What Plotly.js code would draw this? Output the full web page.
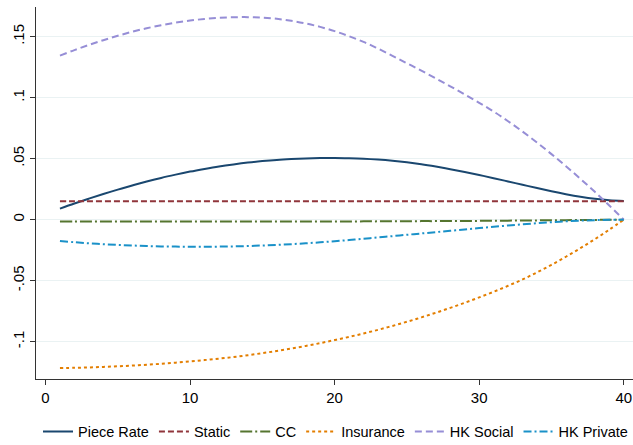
<!DOCTYPE html>
<html>
<head>
<meta charset="utf-8">
<script src="https://cdn.plot.ly/plotly-3.0.1.min.js"></script>
<style>html,body{margin:0;padding:0;background:#fff;}#chart{width:633px;height:445px;}</style>
</head>
<body>
<div id="chart"></div>
<script>
const periods = [1,2,3,4,5,6,7,8,9,10,11,12,13,14,15,16,17,18,19,20,21,22,23,24,25,26,27,28,29,30,31,32,33,34,35,36,37,38,39,40];

const pieceRate = [0.0090,0.0132,0.0172,0.0210,0.0246,0.0280,0.0312,0.0342,0.0369,0.0394,0.0416,0.0436,0.0453,0.0468,0.0480,0.0490,0.0497,0.0502,0.0505,0.0506,0.0504,0.0500,0.0493,0.0483,0.0470,0.0454,0.0435,0.0414,0.0391,0.0366,0.0340,0.0313,0.0286,0.0259,0.0233,0.0209,0.0188,0.0171,0.0159,0.0153];

const staticVals = [0.015,0.015,0.015,0.015,0.015,0.015,0.015,0.015,0.015,0.015,0.015,0.015,0.015,0.015,0.015,0.015,0.015,0.015,0.015,0.015,0.015,0.015,0.015,0.015,0.015,0.015,0.015,0.015,0.015,0.015,0.015,0.015,0.015,0.015,0.015,0.015,0.015,0.015,0.015,0.015];

const ccVals = [-0.0015,-0.0015,-0.0015,-0.0015,-0.0015,-0.0015,-0.0015,-0.0015,-0.0015,-0.0015,-0.0015,-0.0015,-0.0015,-0.0015,-0.0015,-0.0015,-0.0015,-0.0015,-0.0015,-0.0015,-0.0015,-0.0014,-0.0014,-0.0013,-0.0013,-0.0012,-0.0012,-0.0011,-0.0011,-0.0010,-0.0009,-0.0008,-0.0007,-0.0006,-0.0005,-0.0004,-0.0003,-0.0002,-0.0001,0];

const insurance = [-0.1216,-0.1214,-0.1211,-0.1207,-0.1202,-0.1196,-0.1189,-0.1181,-0.1172,-0.1162,-0.1151,-0.1139,-0.1126,-0.1111,-0.1094,-0.1076,-0.1056,-0.1035,-0.1012,-0.0987,-0.0961,-0.0933,-0.0903,-0.0871,-0.0837,-0.0801,-0.0763,-0.0723,-0.0681,-0.0637,-0.0591,-0.0542,-0.0490,-0.0432,-0.0370,-0.0304,-0.0234,-0.0160,-0.0082,0];

const hkSocial = [0.1345,0.1390,0.1432,0.1471,0.1507,0.1540,0.1569,0.1594,0.1615,0.1632,0.1645,0.1654,0.1659,0.1660,0.1656,0.1646,0.1630,0.1608,0.1580,0.1545,0.1503,0.1457,0.1402,0.1343,0.1282,0.1221,0.1158,0.1093,0.1026,0.0958,0.0886,0.0807,0.0722,0.0632,0.0537,0.0438,0.0335,0.0228,0.0116,0];

const hkPrivate = [-0.0175,-0.0185,-0.0194,-0.0201,-0.0207,-0.0212,-0.0216,-0.0219,-0.0221,-0.0222,-0.0222,-0.0221,-0.0219,-0.0216,-0.0212,-0.0207,-0.0201,-0.0194,-0.0186,-0.0177,-0.0167,-0.0157,-0.0146,-0.0135,-0.0124,-0.0113,-0.0102,-0.0091,-0.0080,-0.0069,-0.0058,-0.0048,-0.0038,-0.0029,-0.0021,-0.0014,-0.0008,-0.0004,-0.0001,0];

const seriesNames = ["Piece Rate","Static","CC","Insurance","HK Social","HK Private"];
const yTickVals = [-0.1,-0.05,0,0.05,0.1,0.15];
const yTickText = ["-.1","-.05","0",".05",".1",".15"];
const xTickVals = [0,10,20,30,40];

const seriesData = [pieceRate, staticVals, ccVals, insurance, hkSocial, hkPrivate];
const colors = ["#1a476f","#90353b","#55752f","#e37e00","#968ed6","#1a91c8"];
const dashes = ["solid","6px,3px","12px,3px,2px,3px","3px,3px","7px,4px","8px,3px,2px,3px"];

const traces = seriesData.map((ys, i) => ({
  x: periods, y: ys, name: seriesNames[i], type: "scatter", mode: "lines",
  line: {color: colors[i], width: 2, dash: dashes[i], shape: "spline", smoothing: 1}
}));

const layout = {
  width: 633, height: 445,
  margin: {l: 36, r: 0, t: 7, b: 66},
  paper_bgcolor: "#fff", plot_bgcolor: "#fff",
  font: {family: "Liberation Sans, Arial, sans-serif", size: 15, color: "#000"},
  showlegend: true,
  legend: {orientation: "h", x: 0.504, xanchor: "center", yref: "container", y: 0.03, yanchor: "middle",
           font: {size: 14.5}, itemwidth: 30, tracegroupgap: 0, traceorder: "normal"},
  xaxis: {range: [-0.657, 40.64], tickvals: xTickVals, ticks: "outside", ticklen: 5, tickcolor: "#333",
          ticklabeloverflow: "allow",
          showline: true, linecolor: "#333", linewidth: 1, showgrid: false, zeroline: false},
  yaxis: {range: [-0.1306, 0.1743], tickvals: yTickVals, ticktext: yTickText, tickangle: -90,
          ticks: "outside", ticklen: 5, tickcolor: "#333", showline: true, linecolor: "#333", linewidth: 1,
          showgrid: true, gridcolor: "#eaf2f3", gridwidth: 1, zeroline: false}
};

Plotly.newPlot("chart", traces, layout, {displayModeBar: false, staticPlot: true});
</script>
</body>
</html>
